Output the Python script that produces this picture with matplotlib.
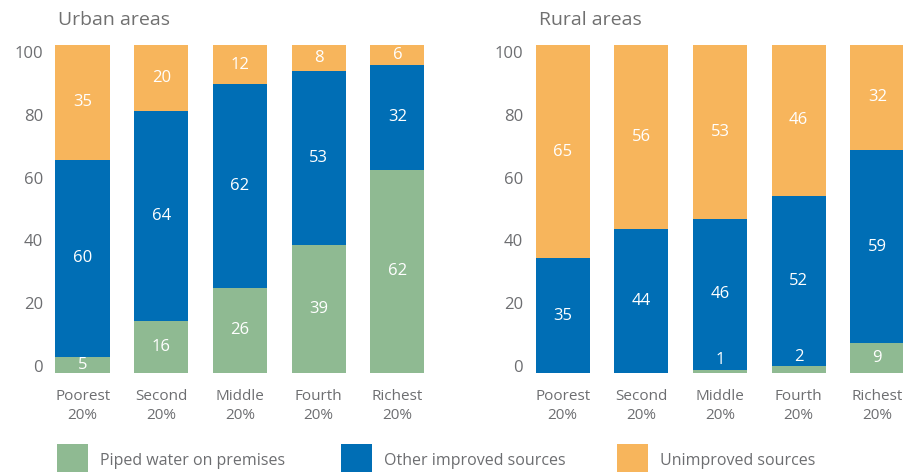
import matplotlib
matplotlib.use("Agg")
import matplotlib.pyplot as plt
from matplotlib.patches import Rectangle

plt.rcParams['font.family'] = ['Open Sans', 'DejaVu Sans']

categories = ["Poorest\n20%", "Second\n20%", "Middle\n20%", "Fourth\n20%", "Richest\n20%"]
series_names = ["Piped water on premises", "Other improved sources", "Unimproved sources"]

urban_piped = [5, 16, 26, 39, 62]
urban_other = [60, 64, 62, 53, 32]
urban_unimproved = [35, 20, 12, 8, 6]

rural_piped = [0, 0, 1, 2, 9]
rural_other = [35, 44, 46, 52, 59]
rural_unimproved = [65, 56, 53, 46, 32]

ytick_values = [0, 20, 40, 60, 80, 100]

colors = ["#8FBA92", "#006EB5", "#F7B55C"]
gray = "#6D6E71"

W, H = 904, 472
fig = plt.figure(figsize=(W / 100, H / 100), dpi=100)

def fx(px):
    return px / W

def fy(py):
    return 1 - py / H

panels = [
    ("Urban areas", [urban_piped, urban_other, urban_unimproved], 55.5, 58),
    ("Rural areas", [rural_piped, rural_other, rural_unimproved], 535.5, 539),
]

for title, series, left_px, title_x in panels:
    ax = fig.add_axes([fx(left_px), fy(373), fx(369), fy(45) - fy(373)])
    x = list(range(len(categories)))
    bottoms = [0] * len(categories)
    for vals, col in zip(series, colors):
        ax.bar(x, vals, bottom=bottoms, width=0.69, color=col, linewidth=0)
        for i, v in enumerate(vals):
            if v > 0:
                ypos = bottoms[i] + v / 2 if v >= 3 else bottoms[i] + v + 3
                ax.text(i, ypos, str(v), ha="center", va="center",
                        color="white", fontsize=12)
        bottoms = [b + v for b, v in zip(bottoms, vals)]
    ax.set_xlim(-0.345, 4.345)
    ax.set_ylim(0, 100)
    ax.set_yticks([2.1 + 0.958 * v for v in ytick_values])
    ax.set_yticklabels([str(v) for v in ytick_values])
    ax.tick_params(axis="y", length=0, pad=9, labelsize=12, labelcolor=gray)
    ax.set_xticks([])
    for s in ax.spines.values():
        s.set_visible(False)
    for i, lab in enumerate(categories):
        ax.text(i, -5.0, lab, ha="center", va="top", color=gray,
                fontsize=11, linespacing=1.3)
    fig.text(fx(title_x), fy(20), title, ha="left", va="center",
             color="#707070", fontsize=14)

legend_x = [57, 341, 617]
for name, col, lx in zip(series_names, colors, legend_x):
    fig.patches.append(Rectangle((fx(lx), fy(475)), fx(31), fy(444) - fy(475),
                                 transform=fig.transFigure, facecolor=col,
                                 edgecolor="none"))
    fig.text(fx(lx + 43), fy(461), name, ha="left", va="center",
             color=gray, fontsize=11.5)

fig.savefig("out.png", dpi=100)
